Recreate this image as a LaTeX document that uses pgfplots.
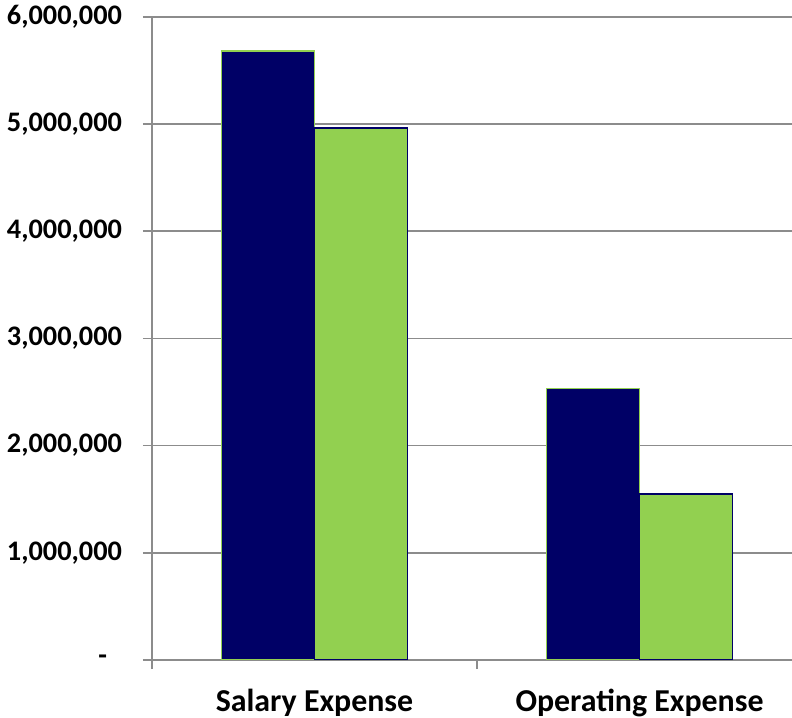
\documentclass[border=0pt]{standalone}
\usepackage{pgfplots}
\pgfplotsset{compat=1.18}
\usepackage{fontspec}
\setmainfont{Carlito}
\definecolor{navy}{HTML}{000066}
\definecolor{lgreen}{HTML}{92D050}
\definecolor{gridc}{HTML}{8C8C8C}
\begin{document}
\begin{tikzpicture}
\begin{axis}[name=ax, scale only axis, width=320bp, height=321.65bp,
  xmin=-0.5, xmax=1.469, ymin=0, ymax=6000000,
  axis lines*=left,
  axis line style={gridc, line width=0.8bp},
  ymajorgrids, grid style={gridc, line width=0.8bp},
  tick align=outside, major tick length=4.5bp,
  tick style={gridc, line width=0.8bp},
  scaled y ticks=false,
  ytick={0,1000000,2000000,3000000,4000000,5000000,6000000},
  yticklabels={{-\rule{7.5bp}{0pt}},{1,000,000},{2,000,000},{3,000,000},{4,000,000},{5,000,000},{6,000,000}},
  yticklabel style={font=\fontsize{14.2}{17}\selectfont\bfseries, text=black, xshift=-7bp},
  xtick={-0.5,0.5}, xticklabels={},
  extra x ticks={0,1},
  extra x tick labels={Salary Expense, Operating Expense},
  extra x tick style={major tick length=0pt, tick style={draw=none},
    xticklabel style={font=\fontsize{16}{19}\selectfont\bfseries, text=black, yshift=-11bp}},
]
\addplot[ybar, bar width=46.5bp, bar shift=-23.25bp, fill=navy, draw=lgreen, line width=0.75bp]
  coordinates {(0,5680000) (1,2534000)};
\addplot[ybar, bar width=46.5bp, bar shift=23.25bp, fill=lgreen, draw=navy, line width=0.75bp]
  coordinates {(0,4962000) (1,1549000)};
\end{axis}
\pgfresetboundingbox
\path ([xshift=-76bp,yshift=-29bp]ax.south west) rectangle ([yshift=8.35bp]ax.north east);
\end{tikzpicture}
\end{document}
